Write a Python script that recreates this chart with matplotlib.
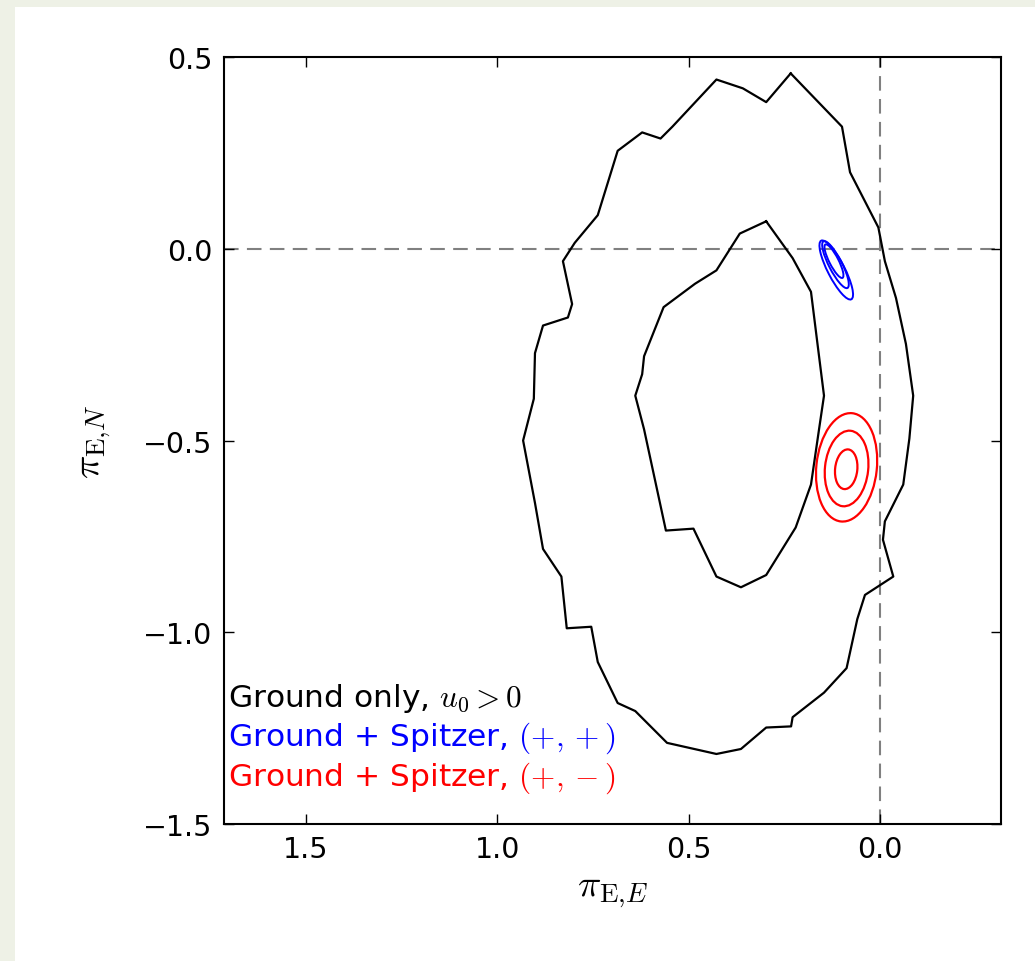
import numpy as np
import matplotlib
matplotlib.use("Agg")
import matplotlib.pyplot as plt
from matplotlib.patches import Ellipse, Rectangle

plt.rcParams['mathtext.fontset'] = 'cm'
plt.rcParams['font.family'] = 'DejaVu Sans'

# ground-only 1 and 2 sigma contours (pi_E,E , pi_E,N)
outer_x = [0.234, 0.100, 0.079, 0.005, -0.012, -0.041, -0.067, -0.086, -0.076, -0.060,
           -0.012, -0.007, -0.034, 0.040, 0.060, 0.088, 0.147, 0.229, 0.233, 0.298,
           0.364, 0.428, 0.557, 0.640, 0.686, 0.738, 0.755, 0.819, 0.833, 0.881,
           0.902, 0.933, 0.905, 0.902, 0.881, 0.816, 0.805, 0.829, 0.798, 0.738,
           0.686, 0.622, 0.574, 0.543, 0.428, 0.359, 0.298, 0.234]
outer_y = [0.458, 0.319, 0.200, 0.056, -0.032, -0.128, -0.248, -0.383, -0.495, -0.615,
           -0.711, -0.759, -0.855, -0.903, -0.966, -1.094, -1.158, -1.222, -1.246, -1.249,
           -1.305, -1.318, -1.289, -1.206, -1.185, -1.078, -0.986, -0.990, -0.855, -0.783,
           -0.663, -0.500, -0.391, -0.272, -0.200, -0.179, -0.144, -0.032, 0.016, 0.088,
           0.256, 0.304, 0.288, 0.319, 0.442, 0.419, 0.383, 0.458]

inner_x = [0.298, 0.367, 0.428, 0.484, 0.566, 0.617, 0.622, 0.640, 0.617, 0.560,
           0.488, 0.428, 0.364, 0.298, 0.221, 0.181, 0.160, 0.147, 0.164, 0.181,
           0.229, 0.298]
inner_y = [0.072, 0.040, -0.056, -0.091, -0.152, -0.280, -0.327, -0.383, -0.471, -0.735,
           -0.730, -0.855, -0.883, -0.851, -0.727, -0.615, -0.471, -0.383, -0.248, -0.112,
           -0.024, 0.072]

# ground + Spitzer solutions: centre x, centre y, length, width, tilt (deg)
plus_plus_cx = [0.115, 0.117, 0.121]
plus_plus_cy = [-0.055, -0.041, -0.032]
plus_plus_len = [0.172, 0.137, 0.098]
plus_plus_wid = [0.044, 0.034, 0.024]
plus_plus_tilt = 62.8

plus_minus_cx = [0.088, 0.088, 0.089]
plus_minus_cy = [-0.570, -0.573, -0.575]
plus_minus_w = [0.158, 0.113, 0.058]
plus_minus_h = [0.284, 0.198, 0.104]
plus_minus_tilt = 6.0

labels = [r"Ground only, $u_0 >0$", r"Ground + Spitzer, $(+,+)$", r"Ground + Spitzer, $(+,-)$"]
label_colors = ["black", "blue", "red"]

fig = plt.figure(figsize=(10.35, 9.62), dpi=100)
fig.patch.set_facecolor('#eef1e6')
fig.patches.append(Rectangle((15 / 1035, 0), 1, 1 - 8 / 962, transform=fig.transFigure,
                             facecolor='white', edgecolor='none', zorder=-1))

ax = fig.add_axes([0.216, 0.1427, 0.7512, 0.7967])

ax.plot(outer_x, outer_y, color='black', lw=1.6)
ax.plot(inner_x, inner_y, color='black', lw=1.6)

for cx, cy, L, W in zip(plus_plus_cx, plus_plus_cy, plus_plus_len, plus_plus_wid):
    ax.add_patch(Ellipse((cx, cy), L, W, angle=plus_plus_tilt, fill=False,
                         edgecolor='blue', lw=1.4))
for cx, cy, w, h in zip(plus_minus_cx, plus_minus_cy, plus_minus_w, plus_minus_h):
    ax.add_patch(Ellipse((cx, cy), w, h, angle=plus_minus_tilt, fill=False,
                         edgecolor='red', lw=1.6))

ax.axhline(0, color='gray', lw=1.5, dashes=(7, 4), zorder=0)
ax.axvline(0, color='gray', lw=1.5, dashes=(7, 4), zorder=0)

ax.set_xlim(1.7155, -0.3155)
ax.set_ylim(-1.5, 0.5)
ax.set_xticks([1.5, 1.0, 0.5, 0.0])
ax.set_yticks([0.5, 0.0, -0.5, -1.0, -1.5])
ax.tick_params(direction='in', top=True, right=True, length=7, width=1,
               labelsize=20.5, pad=8)
for s in ax.spines.values():
    s.set_linewidth(1.5)

ax.set_xlabel(r"$\pi_{{\rm E}{,}E}$", fontsize=28, labelpad=6)
ax.set_ylabel(r"$\pi_{{\rm E}{,}N}$", fontsize=28, labelpad=22)

for i, (t, c) in enumerate(zip(labels, label_colors)):
    ax.text(0.006, 0.165 - i * 0.0525, t, color=c, fontsize=22.5,
            transform=ax.transAxes, va='center', ha='left')

fig.savefig("out.png", dpi=100, facecolor=fig.get_facecolor())
